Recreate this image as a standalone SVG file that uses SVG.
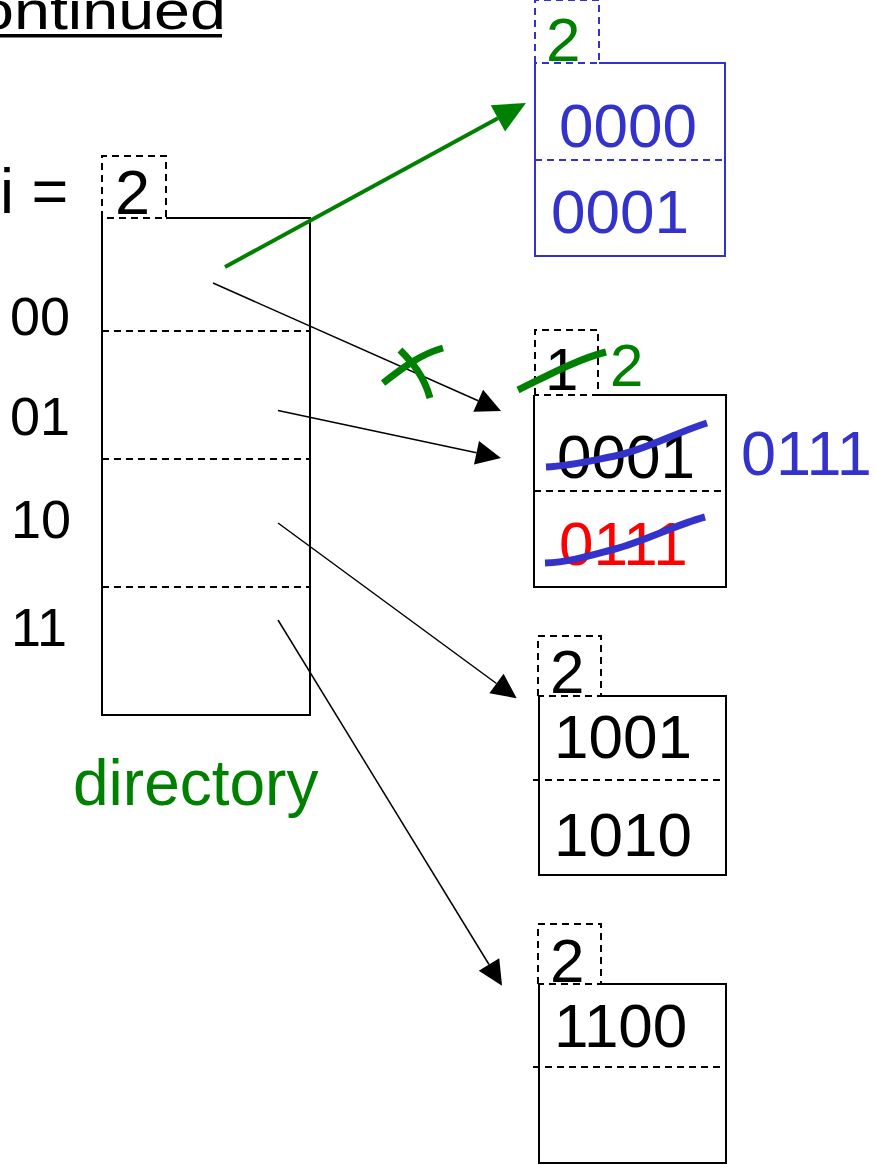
<svg xmlns="http://www.w3.org/2000/svg" width="877" height="1165" viewBox="0 0 877 1165">
<style>
text{font-family:"Liberation Sans",Arial,sans-serif;}
.k{fill:#000;}
.b{fill:#3333CC;}
.g{fill:#008000;}
.r{fill:#FF0000;}
.box{fill:none;stroke:#000;stroke-width:2;}
.dash{fill:none;stroke:#000;stroke-width:2;stroke-dasharray:7 5;}
.bbox{fill:none;stroke:#3333CC;stroke-width:2;}
.bdash{fill:none;stroke:#3333CC;stroke-width:2;stroke-dasharray:7 5;}
.conn{stroke:#000;stroke-width:1.5;fill:none;}
.gconn{stroke:#008000;stroke-width:4;fill:none;}
.bstrike{stroke:#3333CC;stroke-width:7;fill:none;}
.gstrike{stroke:#008000;stroke-width:7;fill:none;}
.big{font-size:62px;}
.lab{font-size:54px;}
</style>
<defs>
<marker id="ah" markerUnits="userSpaceOnUse" markerWidth="30" markerHeight="30" refX="0" refY="12" orient="auto" overflow="visible">
<path d="M0,0 L25,12 L0,24 z" fill="#000"/>
</marker>
<marker id="gah" markerUnits="userSpaceOnUse" markerWidth="40" markerHeight="40" refX="0" refY="15" orient="auto" overflow="visible">
<path d="M0,0 L32,15 L0,30 z" fill="#008000"/>
</marker>
</defs>

<g id="title">
<text x="-22" y="29" font-size="54" textLength="248" lengthAdjust="spacingAndGlyphs" class="k">ontinued</text>
<rect x="0" y="34" width="222" height="3.5" fill="#000"/>
</g>

<g id="directory">
<text x="0" y="213" class="k" font-size="63">i =</text>
<path class="dash" d="M102,218 L102,156 L166,156 L166,218 L102,218"/>
<text x="115" y="214" class="k" font-size="63">2</text>
<path class="box" d="M166,218 L310,218 L310,715 L102,715 L102,218"/>
<line class="dash" x1="102" y1="331" x2="310" y2="331"/>
<line class="dash" x1="102" y1="459" x2="310" y2="459"/>
<line class="dash" x1="102" y1="587" x2="310" y2="587"/>
<text x="10" y="335" class="k lab">00</text>
<text x="10" y="435" class="k lab">01</text>
<text x="11" y="538" class="k lab">10</text>
<text x="11" y="646" class="k lab">11</text>
<text x="73" y="805" class="g" font-size="64">directory</text>
</g>

<g id="bucket1">
<path class="bdash" d="M535,63 L535,0 L599,0 L599,63 L535,63"/>
<text x="546" y="61" class="g big">2</text>
<path class="bbox" d="M599,63 L725,63 L725,256 L535,256 L535,63"/>
<line class="bdash" x1="535" y1="160" x2="725" y2="160"/>
<text x="559" y="147" class="b big">0000</text>
<text x="551" y="233" class="b big">0001</text>
</g>

<g id="bucket2">
<path class="dash" d="M535,395 L535,330 L598,330 L598,395 L535,395"/>
<text x="545" y="390" class="k" font-size="60">1</text>
<text x="610" y="386" class="g" font-size="60">2</text>
<path class="box" d="M598,395 L726,395 L726,587 L534,587 L534,395"/>
<line class="dash" x1="534" y1="491" x2="726" y2="491"/>
<text x="557" y="478" class="k big">0001</text>
<text x="559" y="565" class="r big">0111</text>
<text x="741" y="475" class="b" font-size="63">0111</text>
</g>

<g id="bucket3">
<path class="dash" d="M538,696 L538,636 L601,636 L601,696 L538,696"/>
<text x="550" y="693" class="k big">2</text>
<path class="box" d="M601,696 L726,696 L726,875 L539,875 L539,696"/>
<line class="dash" x1="533" y1="780" x2="726" y2="780"/>
<text x="554" y="758" class="k big">1001</text>
<text x="554" y="856" class="k big">1010</text>
</g>

<g id="bucket4">
<path class="dash" d="M538,984 L538,924 L601,924 L601,984 L538,984"/>
<text x="550" y="982" class="k big">2</text>
<path class="box" d="M601,984 L726,984 L726,1163 L539,1163 L539,984"/>
<line class="dash" x1="533" y1="1067" x2="726" y2="1067"/>
<text x="554" y="1047" class="k big">1100</text>
</g>

<g id="connectors">
<line class="conn" x1="213" y1="283" x2="478.2" y2="400.8" marker-end="url(#ah)"/>
<line class="conn" x1="278" y1="410.5" x2="476.5" y2="452.8" marker-end="url(#ah)"/>
<line class="conn" x1="278" y1="523" x2="496.5" y2="683.5" marker-end="url(#ah)"/>
<line class="conn" x1="278" y1="620" x2="489" y2="964.5" marker-end="url(#ah)"/>
<line class="gconn" x1="225" y1="267" x2="497.9" y2="118.3" marker-end="url(#gah)"/>
</g>

<g id="annotations">
<path class="gstrike" d="M383,383 C400,370 418,355 443,348"/>
<path class="gstrike" d="M400,350 C412,362 424,376 430,398"/>
<path class="gstrike" d="M518,390 C545,377 575,360 606,352"/>
<path class="bstrike" d="M546,467 C570,466 590,461 615,456 C645,450 675,433 707,423"/>
<path class="bstrike" d="M545,563 C570,562 592,555 615,549 C645,541 675,525 705,517"/>
</g>
</svg>
